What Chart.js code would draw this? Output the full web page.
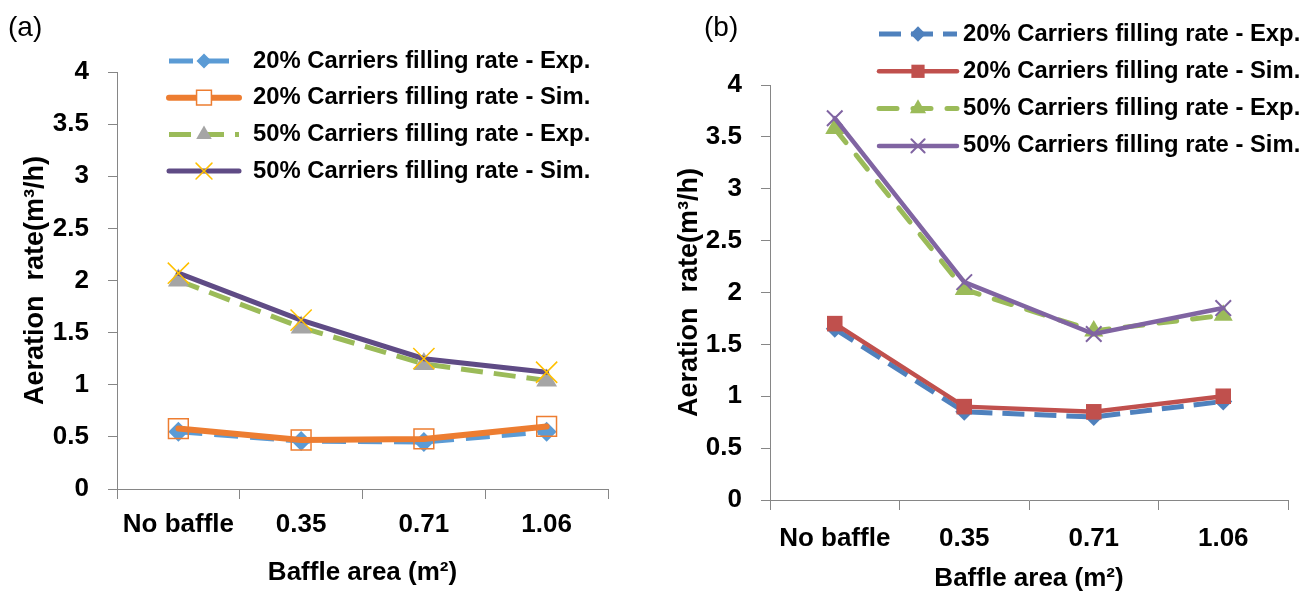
<!DOCTYPE html>
<html>
<head>
<meta charset="utf-8">
<title>Aeration rate vs baffle area</title>
<script src="https://cdn.jsdelivr.net/npm/chart.js@4.4.0/dist/chart.umd.min.js"></script>
<style>
  body { margin: 0; background: #fff; width: 1308px; height: 594px; overflow: hidden; position: relative; }
  .panel { position: absolute; top: 0; height: 594px; }
  #panelA { left: 0; width: 650px; }
  #panelB { left: 650px; width: 658px; }
  .tag { position: absolute; top: 11px; font: 28px "Liberation Sans", Arial, sans-serif; line-height: 32px; color: #000; }
</style>
</head>
<body>
<div class="panel" id="panelA"><canvas id="chartA" width="650" height="594"></canvas></div>
<div class="panel" id="panelB"><canvas id="chartB" width="658" height="594"></canvas></div>
<div class="tag" style="left:8px">(a)</div>
<div class="tag" style="left:704px">(b)</div>
<script>
const categories = ["No baffle", "0.35", "0.71", "1.06"];
const seriesNames = [
  "20% Carriers filling rate - Exp.",
  "20% Carriers filling rate - Sim.",
  "50% Carriers filling rate - Exp.",
  "50% Carriers filling rate - Sim."
];
const yMin = 0, yMax = 4, yStep = 0.5;

// panel (a)
const a20Exp = [0.55, 0.46, 0.45, 0.55];
const a20Sim = [0.58, 0.47, 0.48, 0.60];
const a50Exp = [2.0, 1.55, 1.2, 1.04];
const a50Sim = [2.07, 1.62, 1.25, 1.12];

// panel (b)
const b20Exp = [1.65, 0.85, 0.8, 0.95];
const b20Sim = [1.7, 0.9, 0.85, 1.0];
const b50Exp = [3.58, 2.03, 1.63, 1.78];
const b50Sim = [3.68, 2.1, 1.6, 1.85];

const FONT = '"Liberation Sans", Arial, sans-serif';
const AXIS = "#868686";

// draws the legend (line sample + marker + label) inside the plot, like Excel does
const sideLegend = {
  id: "sideLegend",
  afterDraw(chart, args, opts) {
    const ctx = chart.ctx;
    chart.data.datasets.forEach((ds, i) => {
      const y = opts.top + i * opts.rowGap;
      ctx.save();
      ctx.strokeStyle = ds.borderColor;
      ctx.lineWidth = ds.borderWidth;
      ctx.lineCap = ds.borderCapStyle || "butt";
      ctx.setLineDash(ds.borderDash || []);
      ctx.beginPath();
      ctx.moveTo(opts.x0, y);
      ctx.lineTo(opts.x1, y);
      ctx.stroke();
      ctx.setLineDash([]);
      ctx.fillStyle = ds.legendFill || ds.pointBackgroundColor;
      ctx.strokeStyle = ds.pointBorderColor;
      ctx.lineWidth = ds.pointBorderWidth;
      Chart.helpers.drawPoint(ctx, {
        pointStyle: ds.pointStyle,
        rotation: 0,
        radius: ds.pointRadius * opts.markerScale,
        borderWidth: ds.pointBorderWidth
      }, (opts.x0 + opts.x1) / 2, y);
      ctx.fillStyle = "#000";
      ctx.font = "bold 23.8px " + FONT;
      ctx.textBaseline = "middle";
      ctx.textAlign = "left";
      ctx.fillText(seriesNames[i], opts.textX, y);
      ctx.restore();
    });
  }
};

function makeOptions(p) {
  return {
    responsive: false,
    animation: false,
    layout: { padding: { left: 0, right: p.rightPad, top: p.topPad, bottom: 0 } },
    plugins: {
      legend: { display: false },
      tooltip: { enabled: false },
      sideLegend: p.legend
    },
    scales: {
      x: {
        type: "category",
        offset: true,
        grid: { offset: true, drawOnChartArea: false, tickLength: 10, color: AXIS },
        border: { color: AXIS },
        ticks: { color: "#000", font: { family: FONT, size: 26, weight: "bold" }, padding: p.xTickPad, maxRotation: 0 },
        title: {
          display: true,
          text: "Baffle area (m\u00b2)",
          color: "#000",
          font: { family: FONT, size: 26, weight: "bold" },
          padding: { top: 0, bottom: p.xTitlePad }
        },
        afterFit(scale) { scale.height = p.xAxisHeight; }
      },
      y: {
        min: yMin,
        max: yMax,
        grid: { drawOnChartArea: false, tickLength: 9, color: AXIS },
        border: { color: AXIS },
        ticks: {
          stepSize: yStep,
          color: "#000",
          font: { family: FONT, size: 26, weight: "bold" },
          padding: 19,
          callback: (v) => String(v)
        },
        title: {
          display: true,
          text: "Aeration  rate(m\u00b3/h)",
          color: "#000",
          font: { family: FONT, size: 27, weight: "bold" },
          padding: { top: p.yTitlePad, bottom: 0 }
        },
        afterFit(scale) { scale.width = p.areaLeft; }
      }
    }
  };
}

new Chart(document.getElementById("chartA"), {
  type: "line",
  data: {
    labels: categories,
    datasets: [
      {
        label: seriesNames[0], data: a20Exp, order: 4,
        borderColor: "#5B9BD5", borderWidth: 5, borderDash: [24, 12],
        pointStyle: "rectRot", pointRadius: 10,
        pointBackgroundColor: "#5B9BD5", pointBorderColor: "#5B9BD5", pointBorderWidth: 0
      },
      {
        label: seriesNames[1], data: a20Sim, order: 3,
        borderColor: "#ED7D31", borderWidth: 6, borderCapStyle: "round",
        pointStyle: "rect", pointRadius: 14, legendFill: "#fff",
        pointBackgroundColor: "rgba(0,0,0,0)", pointBorderColor: "#ED7D31", pointBorderWidth: 1.5
      },
      {
        label: seriesNames[2], data: a50Exp, order: 2,
        borderColor: "#9BBB59", borderWidth: 5, borderDash: [22, 11],
        pointStyle: "triangle", pointRadius: 12,
        pointBackgroundColor: "#A5A5A5", pointBorderColor: "#A5A5A5", pointBorderWidth: 0
      },
      {
        label: seriesNames[3], data: a50Sim, order: 1,
        borderColor: "#5F4B85", borderWidth: 5, borderCapStyle: "round",
        pointStyle: "crossRot", pointRadius: 15,
        pointBackgroundColor: "#FFC000", pointBorderColor: "#FFC000", pointBorderWidth: 1.5
      }
    ]
  },
  options: makeOptions({
    areaLeft: 117, rightPad: 42, topPad: 72, xAxisHeight: 105,
    xTickPad: 10, xTitlePad: 6, yTitlePad: 19,
    legend: { top: 61, rowGap: 36.7, x0: 169, x1: 239, textX: 253, markerScale: 0.75 }
  }),
  plugins: [sideLegend]
});

new Chart(document.getElementById("chartB"), {
  type: "line",
  data: {
    labels: categories,
    datasets: [
      {
        label: seriesNames[0], data: b20Exp, order: 4,
        borderColor: "#4F81BD", borderWidth: 5, borderDash: [22, 10],
        pointStyle: "rectRot", pointRadius: 9,
        pointBackgroundColor: "#4F81BD", pointBorderColor: "#4F81BD", pointBorderWidth: 0
      },
      {
        label: seriesNames[1], data: b20Sim, order: 3,
        borderColor: "#C0504D", borderWidth: 4.5, borderCapStyle: "round",
        pointStyle: "rect", pointRadius: 11,
        pointBackgroundColor: "#C0504D", pointBorderColor: "#C0504D", pointBorderWidth: 0
      },
      {
        label: seriesNames[2], data: b50Exp, order: 2,
        borderColor: "#9BBB59", borderWidth: 5, borderDash: [18, 16], borderCapStyle: "round",
        pointStyle: "triangle", pointRadius: 11,
        pointBackgroundColor: "#9BBB59", pointBorderColor: "#9BBB59", pointBorderWidth: 0
      },
      {
        label: seriesNames[3], data: b50Sim, order: 1,
        borderColor: "#8064A2", borderWidth: 4.5, borderCapStyle: "round",
        pointStyle: "crossRot", pointRadius: 11,
        pointBackgroundColor: "#8064A2", pointBorderColor: "#8064A2", pointBorderWidth: 2
      }
    ]
  },
  options: makeOptions({
    areaLeft: 120, rightPad: 20, topPad: 85, xAxisHeight: 94,
    xTickPad: 13, xTitlePad: 0, yTitlePad: 23,
    legend: { top: 34, rowGap: 37.3, x0: 229, x1: 307, textX: 313, markerScale: 0.85 }
  }),
  plugins: [sideLegend]
});
</script>
</body>
</html>
